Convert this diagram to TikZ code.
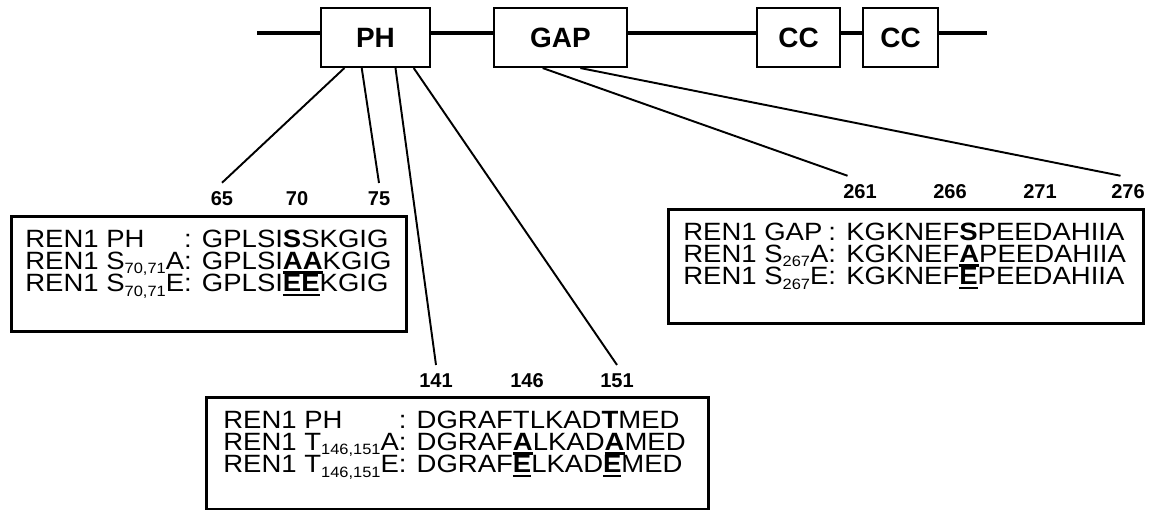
\documentclass[tikz,border=0pt]{standalone}
\usepackage{fontspec}
\setmainfont{Liberation Sans}
\newfontfamily\seqfont[FakeStretch=1.1]{Liberation Sans}
\usepackage{array}
\usepackage{tikz}
\usetikzlibrary{calc, positioning}

\newsavebox{\rowcell}
\newsavebox{\mutbox}
\newcolumntype{L}{>{\begin{lrbox}{\rowcell}}l<{\end{lrbox}\smash{\usebox{\rowcell}}}}
\newcommand{\mutres}[1]{\sbox{\mutbox}{\textbf{#1}}\rlap{\rule[-2.45pt]{\wd\mutbox}{1.45pt}}\usebox{\mutbox}}
\newcommand{\subpos}[1]{\raisebox{-2.4pt}{\fontsize{8.5}{9}\selectfont #1}}

\begin{document}
\begin{tikzpicture}[x=0.02cm, y=-0.02cm,
    domainbox/.style={draw, line width=1.2pt, fill=white, minimum height=1.18cm, inner sep=0pt, font=\fontsize{15.9}{18}\selectfont\bfseries},
    seqbox/.style={draw, line width=1.6pt, anchor=north west, inner sep=0pt},
    seqtext/.style={anchor=base west, inner sep=0pt, font=\seqfont\fontsize{14.23}{12.8}\selectfont},
    resno/.style={anchor=base, inner sep=4.5pt, font=\fontsize{11.4}{13}\selectfont\bfseries},
    link/.style={line width=1.1pt}]
    \useasboundingbox (0,0) rectangle (1152,510);

    % Backbone and domains
    \coordinate (nterm) at (257,33);
    \coordinate (cterm) at (987,33);
    \draw[line width=2.3pt] (nterm) -- (cterm);
    \node[domainbox, minimum width=2.18cm] (ph) at (375.5,37.5) {PH};
    \node[domainbox, minimum width=2.66cm] (gap) at (560.5,37.5) {GAP};
    \node[domainbox, minimum width=1.66cm] (cc1) at (798.5,37.5) {CC};
    \node[domainbox, minimum width=1.5cm] (cc2) at (900.5,37.5) {CC};

    % Residue numbers
    \foreach \num/\xpos in {65/222, 70/297, 75/379}
        \node[resno] (n\num) at (\xpos,205) {\num};
    \foreach \num/\xpos in {141/436, 146/527, 151/617}
        \node[resno] (n\num) at (\xpos,387) {\num};
    \foreach \num/\xpos in {261/860, 266/950, 271/1040, 276/1128}
        \node[resno] (n\num) at (\xpos,198) {\num};

    % Sequence boxes
    \node[seqbox, minimum width=7.9cm, minimum height=2.3cm] (phbox1) at (10,215) {};
    \node[seqtext] (phseq1) at (25,247) {\begin{tabular}[t]{@{}L@{}L@{}}
        REN1 PH & : GPLSI\textbf{S}SKGIG\\
        REN1 S\subpos{70,71}A & : GPLSI\mutres{AA}KGIG\\
        REN1 S\subpos{70,71}E & : GPLSI\mutres{EE}KGIG
    \end{tabular}};

    \node[seqbox, minimum width=10.04cm, minimum height=2.24cm] (phbox2) at (205,396) {};
    \node[seqtext] (phseq2) at (223,428) {\begin{tabular}[t]{@{}L@{}L@{}}
        REN1 PH & : DGRAFTLKAD\textbf{T}MED\\
        REN1 T\subpos{146,151}A & : DGRAF\mutres{A}LKAD\mutres{A}MED\\
        REN1 T\subpos{146,151}E & : DGRAF\mutres{E}LKAD\mutres{E}MED
    \end{tabular}};

    \node[seqbox, minimum width=9.5cm, minimum height=2.28cm] (gapbox) at (667,208) {};
    \node[seqtext] (gapseq) at (683,240) {\begin{tabular}[t]{@{}L@{}L@{}}
        REN1 GAP & : KGKNEF\textbf{S}PEEDAHIIA\\
        REN1 S\subpos{267}A & : KGKNEF\mutres{A}PEEDAHIIA\\
        REN1 S\subpos{267}E & : KGKNEF\mutres{E}PEEDAHIIA
    \end{tabular}};

    % Connectors
    \draw[link] ($(ph.south west)!0.22!(ph.south east)$) -- (n65.north);
    \draw[link] ($(ph.south west)!0.376!(ph.south east)$) -- (n75.north);
    \draw[link] ($(ph.south west)!0.68!(ph.south east)$) -- (n141.north);
    \draw[link] ($(ph.south west)!0.844!(ph.south east)$) -- (n151.north);
    \draw[link] ($(gap.south west)!0.368!(gap.south east)$) -- ($(n261.north)!0.5!(n261.north west)$);
    \draw[link] ($(gap.south west)!0.647!(gap.south east)$) -- ($(n276.north)!0.3!(n276.north west)$);
\end{tikzpicture}
\end{document}
